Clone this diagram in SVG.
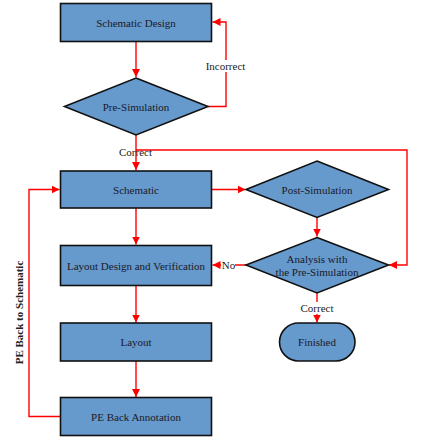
<svg xmlns="http://www.w3.org/2000/svg" width="421" height="440" viewBox="0 0 421 440" font-family="'Liberation Serif', 'Times New Roman', serif">
<defs>
<marker id="ah" markerWidth="8" markerHeight="8" refX="8" refY="4" orient="auto" markerUnits="userSpaceOnUse">
<path d="M0,0 L8,4 L0,8 Z" fill="#FF0000"/>
</marker>
<style>
.box{fill:#6699CC;stroke:#111;stroke-width:1.6}
.t{font-family:'Liberation Serif','Times New Roman',serif;font-size:11px;fill:#1a1a2a;text-anchor:middle;dominant-baseline:central}
.c{fill:none;stroke:#FF0000;stroke-width:1.4}
.lbl{font-family:'Liberation Serif','Times New Roman',serif;font-size:11px;fill:#222;text-anchor:middle;dominant-baseline:central}
</style>
</defs>
<rect width="421" height="440" fill="#fff"/>
<g id="connectors">
<path class="c" d="M136,42 V77" marker-end="url(#ah)"/>
<path class="c" d="M208,106.5 H226 V22 H212.5" marker-end="url(#ah)"/>
<path class="c" d="M136,135 V170" marker-end="url(#ah)"/>
<path class="c" d="M136,150 H407 V265 H389" marker-end="url(#ah)"/>
<path class="c" d="M212,189.5 H245.5" marker-end="url(#ah)"/>
<path class="c" d="M317,217 V236.5" marker-end="url(#ah)"/>
<path class="c" d="M136,208 V244.5" marker-end="url(#ah)"/>
<path class="c" d="M246,265 H212.5" marker-end="url(#ah)"/>
<path class="c" d="M136,285.5 V322.5" marker-end="url(#ah)"/>
<path class="c" d="M136,361 V397" marker-end="url(#ah)"/>
<path class="c" d="M317,293 V322.5" marker-end="url(#ah)"/>
<path class="c" d="M60,416.5 H29 V189.5 H59.5" marker-end="url(#ah)"/>
<rect x="204" y="60" width="44" height="12" fill="#fff"/>
<text class="lbl" x="225.5" y="66">Incorrect</text>
<text class="lbl" x="135.5" y="152">Correct</text>
<rect x="221" y="259" width="14" height="12" fill="#fff"/>
<text class="lbl" x="228.5" y="265">No</text>
<rect x="296" y="302" width="42" height="12" fill="#fff"/>
<text class="lbl" x="317" y="308">Correct</text>
<text class="lbl" x="18.5" y="312.5" transform="rotate(-90 18.5 312.5)" font-weight="bold">PE Back to Schematic</text>
</g>
<g id="schematic-design">
<rect class="box" x="60.5" y="3.5" width="151" height="38"/>
<text class="t" x="136" y="22.5">Schematic Design</text>
</g>
<g id="pre-simulation">
<polygon class="box" points="136,78 208,106.5 136,135 64.5,106.5"/>
<text class="t" x="136" y="106.5">Pre-Simulation</text>
</g>
<g id="schematic">
<rect class="box" x="60.5" y="171" width="151" height="37"/>
<text class="t" x="136" y="189.5">Schematic</text>
</g>
<g id="post-simulation">
<polygon class="box" points="317,161 388.5,189.5 317,217.5 246,189.5"/>
<text class="t" x="317" y="189.5">Post-Simulation</text>
</g>
<g id="analysis">
<polygon class="box" points="317,237.5 388.5,265 317,293 246,265"/>
<text class="t" x="317" y="258.5">Analysis with</text>
<text class="t" x="317" y="271.5">the Pre-Simulation</text>
</g>
<g id="layout-design">
<rect class="box" x="60.5" y="245.5" width="151" height="40"/>
<text class="t" x="136" y="265.5">Layout Design and Verification</text>
</g>
<g id="layout">
<rect class="box" x="60.5" y="323" width="151" height="38"/>
<text class="t" x="136" y="342">Layout</text>
</g>
<g id="pe-back-annotation">
<rect class="box" x="60.5" y="397.5" width="151" height="38"/>
<text class="t" x="136" y="416.5">PE Back Annotation</text>
</g>
<g id="finished">
<rect class="box" x="279.5" y="323" width="75.5" height="38" rx="19" ry="19"/>
<text class="t" x="317" y="342">Finished</text>
</g>
</svg>
